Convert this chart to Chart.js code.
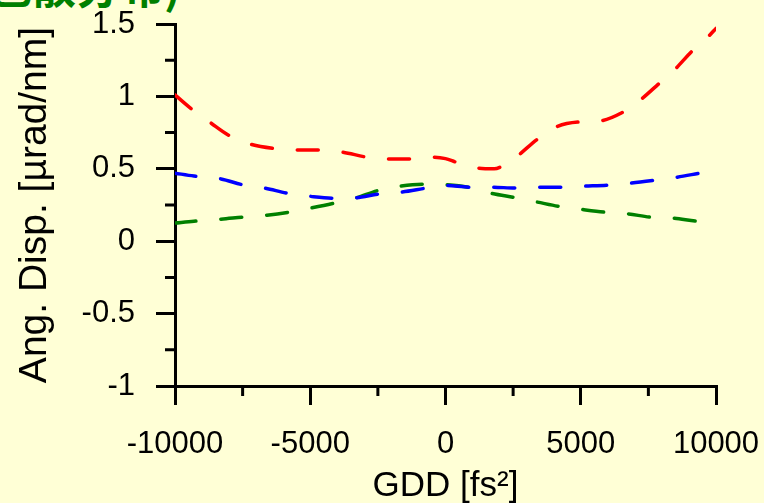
<!DOCTYPE html>
<html>
<head>
<meta charset="utf-8">
<script src="https://cdn.jsdelivr.net/npm/chart.js@4.4.1/dist/chart.umd.min.js"></script>
<style>
html, body { margin: 0; padding: 0; background: #FFFFD6; overflow: hidden; }
#marco { position: relative; width: 764px; height: 503px; }
#titulo { position: absolute; left: -12px; top: -47px; font: bold 44px "Noto Sans CJK SC"; color: #008000; white-space: nowrap; }
canvas { position: absolute; left: 0; top: 0; }
</style>
</head>
<body>
<div id="marco">
  <div id="titulo">色散分布)</div>
  <canvas id="grafico" width="764" height="503"></canvas>
</div>
<script>
// datos (GDD en fs², dispersión angular en µrad/nm)
const gddRojo = [-10000, -9300, -8700, -8000, -7200, -6300, -5500, -4600, -3800, -2900, -2100, -1200, -500, 0, 400, 1200, 1800, 2200, 2700, 3400, 4100, 4900, 5700, 6500, 7200, 7900, 8500, 9100, 9700, 10000];
const dispRojo = [1.01, 0.90, 0.82, 0.73, 0.67, 0.64, 0.63, 0.63, 0.615, 0.58, 0.567, 0.567, 0.58, 0.57, 0.545, 0.505, 0.50, 0.53, 0.595, 0.705, 0.79, 0.823, 0.83, 0.885, 0.975, 1.09, 1.19, 1.31, 1.41, 1.47];

const gddAzul = [-10000, -9300, -8300, -7500, -6700, -5800, -5000, -4100, -3300, -2500, -1600, -700, 0, 900, 1700, 2600, 3400, 4300, 5100, 6000, 6800, 7700, 8500, 9400, 10000];
const dispAzul = [0.47, 0.45, 0.43, 0.39, 0.367, 0.33, 0.31, 0.297, 0.30, 0.325, 0.34, 0.367, 0.385, 0.373, 0.373, 0.367, 0.373, 0.373, 0.38, 0.387, 0.40, 0.42, 0.44, 0.47, 0.49];

const gddVerde = [-10000, -9300, -8300, -7500, -6600, -5800, -5000, -4100, -3300, -2500, -1700, -800, 0, 900, 1700, 2600, 3400, 4200, 5000, 5900, 6700, 7600, 8400, 9300, 10000];
const dispVerde = [0.125, 0.138, 0.152, 0.166, 0.18, 0.20, 0.228, 0.263, 0.30, 0.35, 0.38, 0.394, 0.39, 0.37, 0.33, 0.30, 0.27, 0.24, 0.22, 0.20, 0.19, 0.166, 0.16, 0.138, 0.13];

// marcas de los ejes
const ticksX = [-10000, -5000, 0, 5000, 10000];
const ticksY = [-1, -0.5, 0, 0.5, 1, 1.5];
const menoresX = [-7500, -2500, 2500, 7500];
const menoresY = [-0.75, -0.25, 0.25, 0.75, 1.25];

const puntos = (xs, ys) => xs.map((x, i) => ({ x: x, y: ys[i] }));

// dibuja las marcas menores (Chart.js no las tiene en escalas lineales)
const marcasMenores = {
    id: 'marcasMenores',
    afterDraw(chart) {
        const { ctx, chartArea, scales: { x, y } } = chart;
        ctx.save();
        ctx.strokeStyle = '#000';
        ctx.lineWidth = 3;
        ctx.beginPath();
        menoresX.forEach(v => {
            const px = x.getPixelForValue(v);
            ctx.moveTo(px, chartArea.bottom);
            ctx.lineTo(px, chartArea.bottom + 10);
        });
        menoresY.forEach(v => {
            const py = y.getPixelForValue(v);
            ctx.moveTo(chartArea.left, py);
            ctx.lineTo(chartArea.left - 10, py);
        });
        ctx.stroke();
        ctx.restore();
    }
};

const serie = (datos, color) => ({
    data: datos,
    borderColor: color,
    borderWidth: 3.5,
    borderDash: [21, 25],
    borderCapStyle: 'round',
    pointRadius: 0,
    fill: false,
    cubicInterpolationMode: 'monotone'
});

const ejeComun = {
    grid: { display: true, drawOnChartArea: false, drawTicks: true, tickLength: 19, color: '#000', lineWidth: 3 },
    border: { display: true, color: '#000', width: 3 }
};

new Chart(document.getElementById('grafico').getContext('2d'), {
    type: 'line',
    data: {
        datasets: [
            serie(puntos(gddRojo, dispRojo), '#FF0000'),
            serie(puntos(gddAzul, dispAzul), '#0000FF'),
            serie(puntos(gddVerde, dispVerde), '#008000')
        ]
    },
    options: {
        responsive: false,
        animation: false,
        devicePixelRatio: 1,
        layout: { padding: { top: 24, right: 48, left: 0, bottom: 0 } },
        plugins: { legend: { display: false }, tooltip: { enabled: false } },
        scales: {
            x: {
                ...ejeComun,
                type: 'linear',
                min: -10000,
                max: 10000,
                afterBuildTicks: s => { s.ticks = ticksX.map(v => ({ value: v })); },
                afterFit: s => { s.height = 117; s.paddingLeft = 0; s.paddingRight = 0; },
                ticks: {
                    callback: v => String(v),
                    color: '#000',
                    padding: 21,
                    maxRotation: 0,
                    font: { family: '"Liberation Sans"', size: 31 }
                },
                title: {
                    display: true,
                    text: 'GDD [fs²]',
                    color: '#000',
                    font: { family: '"Liberation Sans"', size: 35 },
                    padding: { top: 0, bottom: -4 }
                }
            },
            y: {
                ...ejeComun,
                type: 'linear',
                min: -1,
                max: 1.5,
                afterBuildTicks: s => { s.ticks = ticksY.map(v => ({ value: v })); },
                afterFit: s => { s.width = 175; s.paddingTop = 0; s.paddingBottom = 0; },
                ticks: {
                    callback: v => String(v),
                    color: '#000',
                    padding: 21,
                    font: { family: '"Liberation Sans"', size: 31 }
                },
                title: {
                    display: true,
                    text: 'Ang. Disp. [µrad/nm]',
                    color: '#000',
                    font: { family: '"Liberation Sans"', size: 39 },
                    padding: { top: 12, bottom: 0 }
                }
            }
        }
    },
    plugins: [marcasMenores]
});
</script>
</body>
</html>
